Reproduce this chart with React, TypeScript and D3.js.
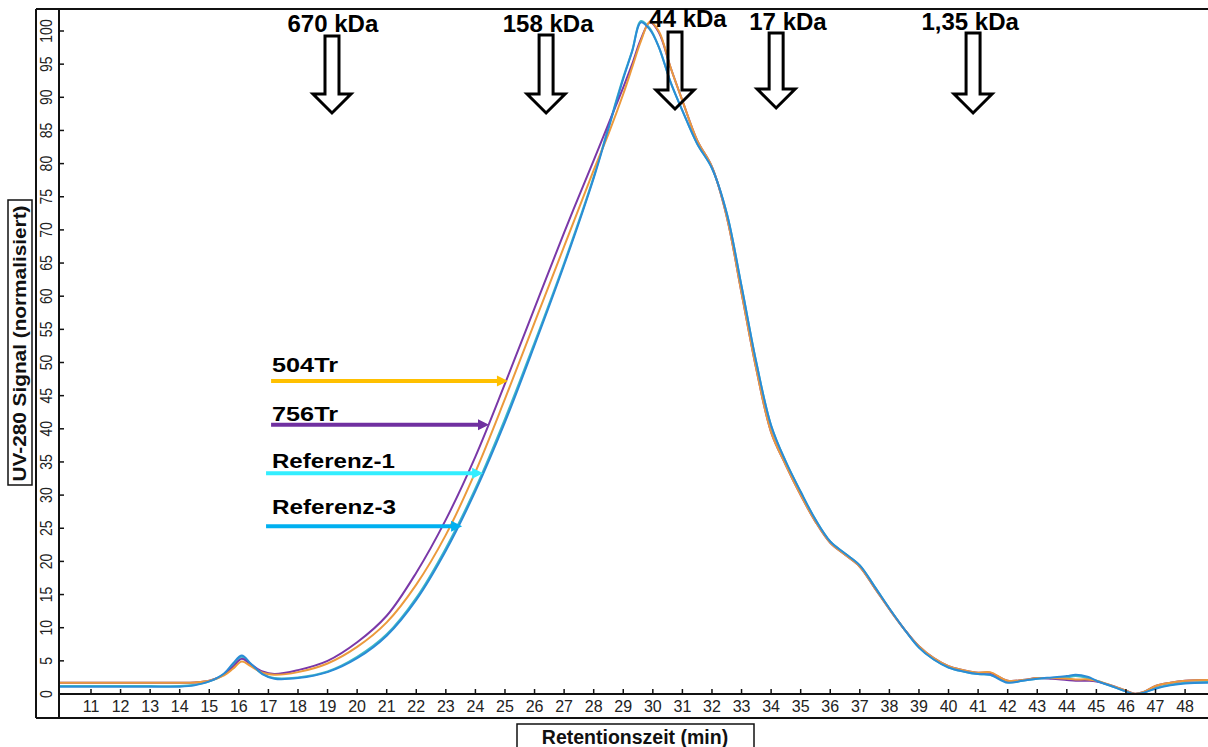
import React from "react";
import * as d3 from "d3";

// ---- data ----
const times = [9.9, 10.5, 11, 12, 13, 14, 14.5, 15, 15.5, 15.8, 16.1, 16.4, 16.8, 17.2, 18, 19, 20, 21, 22, 23, 24, 25, 26, 27, 28, 28.5, 29, 29.3, 29.6, 29.9, 30.2, 30.6, 31, 31.5, 32, 32.5, 33, 33.5, 34, 34.5, 35, 35.5, 36, 36.5, 37, 37.5, 38, 38.5, 39, 39.5, 40, 40.5, 41, 41.4, 42, 42.5, 43, 43.5, 44, 44.3, 44.7, 45, 45.5, 46, 46.3, 46.6, 47, 47.5, 48, 48.8];

const s504Tr = [
  1.7, 1.7, 1.7, 1.7, 1.7, 1.7, 1.75, 2.0, 2.8, 3.8,
  4.9, 4.2, 3.2, 2.9, 3.3, 4.6, 7.1, 10.8, 16.5, 24.0,
  33.5, 44.5, 56.0, 67.5, 79.0, 84.5, 90.5, 94.5, 98.5, 101.4,
  100.0, 94.5, 89.5, 83.5, 79.5, 72.0, 60.5, 49.0, 39.5, 34.5,
  30.0, 26.0, 22.8, 21.0, 19.2, 16.0, 12.8, 9.8, 7.2, 5.4,
  4.2, 3.6, 3.2, 3.3, 2.0, 2.1, 2.4, 2.4, 2.3, 2.2,
  2.2, 2.0, 1.3, 0.5, 0.05, 0.3, 1.2, 1.7, 2.0, 2.1,
];
const s756Tr = [
  1.7, 1.7, 1.7, 1.7, 1.7, 1.7, 1.75, 2.0, 2.9, 4.1,
  5.3, 4.5, 3.4, 3.0, 3.6, 5.0, 7.8, 11.8, 18.3, 26.3,
  35.8, 46.8, 58.2, 69.6, 80.5, 86.0, 91.5, 95.0, 98.8, 101.3,
  99.8, 94.5, 89.5, 83.5, 79.5, 72.0, 60.5, 49.0, 39.5, 34.5,
  30.0, 26.0, 22.8, 21.0, 19.2, 16.0, 12.8, 9.8, 7.2, 5.4,
  4.2, 3.6, 3.2, 3.2, 2.0, 2.1, 2.4, 2.3, 2.1, 2.0,
  2.0, 1.9, 1.3, 0.5, 0.05, 0.3, 1.2, 1.7, 2.0, 2.1,
];
const sReferenz1 = [
  1.2, 1.2, 1.2, 1.2, 1.2, 1.2, 1.4, 1.9, 3.0, 4.4,
  5.6, 4.5, 3.0, 2.4, 2.5, 3.4, 5.6, 9.0, 14.5, 22.0,
  31.0, 41.5, 53.0, 65.0, 78.0, 85.5, 93.0, 97.0, 101.5, 100.4,
  97.6, 92.3, 88.0, 83.0, 79.3, 72.5, 61.5, 50.0, 40.5, 35.0,
  30.5, 26.3, 23.0, 21.2, 19.4, 16.2, 12.9, 9.8, 7.0, 5.2,
  4.0, 3.4, 3.0, 2.9, 1.8, 2.0, 2.3, 2.4, 2.5, 2.7,
  2.4, 2.0, 1.2, 0.4, 0.0, 0.2, 0.9, 1.4, 1.7, 1.8,
];
const sReferenz3 = [
  1.1, 1.1, 1.1, 1.1, 1.1, 1.1, 1.3, 1.9, 3.1, 4.6,
  5.8, 4.6, 3.0, 2.3, 2.4, 3.3, 5.4, 8.8, 14.2, 21.6,
  30.6, 41.0, 52.6, 64.7, 77.8, 85.3, 92.8, 96.9, 101.3, 100.2,
  97.6, 92.3, 88.0, 83.0, 79.3, 72.5, 61.5, 50.0, 40.5, 35.0,
  30.5, 26.3, 23.0, 21.2, 19.4, 16.2, 12.9, 9.8, 7.0, 5.2,
  4.0, 3.4, 3.0, 2.9, 1.7, 2.0, 2.3, 2.5, 2.7, 2.9,
  2.6, 2.0, 1.2, 0.4, 0.0, 0.2, 0.8, 1.3, 1.6, 1.7,
];

const xTickValues = d3.range(11, 49);
const yTickValues = d3.range(0, 101, 5);

const markerLabels = ["670 kDa", "158 kDa", "44 kDa", "17 kDa", "1,35 kDa"];
const markerTimes = [19.15, 26.39, 30.75, 34.17, 40.83];
const markerLabelTimes = [19.18, 26.46, 31.19, 34.57, 40.73];

const legendNames = ["504Tr", "756Tr", "Referenz-1", "Referenz-3"];
const legendTargetTimes = [25.1, 24.46, 24.26, 23.55];
const legendTargetValues = [47.2, 40.6, 33.3, 25.3];
const legendStartTimes = [17.09, 17.09, 16.92, 16.92];

// ---- styles / layout ----
const curveColors = ["#EC9A3C", "#7A38A8", "#3FBAC6", "#2A8CD6"];
const drawOrder = [2, 1, 0, 3];
const legendColors = ["#FFC000", "#7030A0", "#33EEFF", "#00B0F0"];
const legendLabelOffsets = [-9, -4, -5, -12];
const legendLabelLengths = [66, 66, 123, 124];
const markerTop = [36, 35, 32, 33, 33];
const markerTip = [113, 113, 109, 108, 113];
const markerLabelBase = [32, 32, 27, 30, 30];

const FONT = "'Liberation Sans', Arial, Helvetica, sans-serif";

export default function App() {
  const W = 1208, H = 747;
  const plotL = 59, plotR = 1208, plotT = 9, plotB = 694, outerL = 36, outerB = 718;

  const x = d3.scaleLinear().domain([11, 48]).range([91, 91 + 37 * 29.57]);
  const y = d3.scaleLinear().domain([0, 100]).range([694, 31]);

  const seriesValues = [s504Tr, s756Tr, sReferenz1, sReferenz3];
  const line = d3
    .line<[number, number]>()
    .x((d) => x(d[0]))
    .y((d) => y(d[1]))
    .curve(d3.curveCatmullRom.alpha(0.5));

  return (
    <svg
      width={W}
      height={H}
      style={{ position: "fixed", left: 0, top: 0, background: "#fff" }}
      fontFamily={FONT}
    >
      <defs>
        <clipPath id="plotclip">
          <rect x={plotL + 1} y={plotT + 1} width={plotR - plotL} height={plotB - plotT - 1} />
        </clipPath>
      </defs>
      <rect x={0} y={0} width={W} height={H} fill="#fff" />

      {/* curves */}
      <g clipPath="url(#plotclip)">
        {drawOrder.map((i) => (
          <path
            key={i}
            d={line(times.map((t, k) => [t, seriesValues[i][k]]) as [number, number][]) || ""}
            fill="none"
            stroke={curveColors[i]}
            strokeWidth={2}
            strokeLinejoin="round"
          />
        ))}
      </g>

      {/* frame */}
      <g stroke="#111" strokeWidth={2} fill="none">
        <line x1={outerL} y1={plotT} x2={plotR} y2={plotT} />
        <line x1={outerL} y1={plotT} x2={outerL} y2={outerB} />
        <line x1={plotL} y1={plotT} x2={plotL} y2={outerB} />
        <line x1={plotL} y1={plotB} x2={plotR} y2={plotB} />
        <line x1={outerL} y1={outerB} x2={plotR} y2={outerB} />
      </g>

      {/* y ticks */}
      {yTickValues.map((v) => (
        <g key={v}>
          <line x1={plotL} x2={plotL + 5} y1={y(v)} y2={y(v)} stroke="#111" strokeWidth={1.5} />
          <text
            transform={`translate(51.5,${y(v)}) rotate(-90) scale(1,1.22)`}
            textAnchor="middle"
            fontSize={14}
            fill="#222"
          >
            {v}
          </text>
        </g>
      ))}

      {/* x ticks */}
      {xTickValues.map((t) => (
        <g key={t}>
          <line x1={x(t)} x2={x(t)} y1={plotB} y2={plotB - 5} stroke="#111" strokeWidth={1.5} />
          <text x={x(t)} y={712} textAnchor="middle" fontSize={16} fill="#222">
            {t}
          </text>
        </g>
      ))}

      {/* y title */}
      <rect x={8} y={200} width={24} height={285} fill="#fff" stroke="#111" strokeWidth={1.5} />
      <text
        transform="translate(25.5,343.5) rotate(-90)"
        textAnchor="middle"
        fontSize={19}
        fontWeight="bold"
        fill="#111"
        textLength={276}
        lengthAdjust="spacingAndGlyphs"
      >
        UV-280 Signal (normalisiert)
      </text>

      {/* x title */}
      <rect x={517} y={724} width={237} height={40} fill="#fff" stroke="#111" strokeWidth={1.5} />
      <text x={635} y={744} textAnchor="middle" fontSize={19.5} fontWeight="bold" fill="#111">
        Retentionszeit (min)
      </text>

      {/* molecular weight markers */}
      {markerLabels.map((lab, i) => {
        const cx = x(markerTimes[i]);
        const top = markerTop[i];
        const tip = markerTip[i];
        const neck = tip - 19;
        const pts = [
          [cx - 7, top],
          [cx + 7, top],
          [cx + 7, neck],
          [cx + 19, neck],
          [cx, tip],
          [cx - 19, neck],
          [cx - 7, neck],
        ]
          .map((p) => p.join(","))
          .join(" ");
        return (
          <g key={lab}>
            <polygon points={pts} fill="none" stroke="#000" strokeWidth={3} strokeLinejoin="miter" />
            <text
              x={x(markerLabelTimes[i])}
              y={markerLabelBase[i]}
              textAnchor="middle"
              fontSize={24}
              fontWeight="bold"
              fill="#000"
            >
              {lab}
            </text>
          </g>
        );
      })}

      {/* legend arrows */}
      {legendNames.map((name, i) => {
        const ly = y(legendTargetValues[i]);
        const tipX = x(legendTargetTimes[i]);
        const x0 = x(legendStartTimes[i]);
        return (
          <g key={name}>
            <line x1={x0} x2={tipX - 8} y1={ly} y2={ly} stroke={legendColors[i]} strokeWidth={4} />
            <polygon
              points={`${tipX - 11},${ly - 5.5} ${tipX},${ly} ${tipX - 11},${ly + 5.5}`}
              fill={legendColors[i]}
            />
            <text
              x={272}
              y={ly + legendLabelOffsets[i]}
              fontSize={21}
              fontWeight="bold"
              fill="#000"
              textLength={legendLabelLengths[i]}
              lengthAdjust="spacingAndGlyphs"
            >
              {name}
            </text>
          </g>
        );
      })}
    </svg>
  );
}
